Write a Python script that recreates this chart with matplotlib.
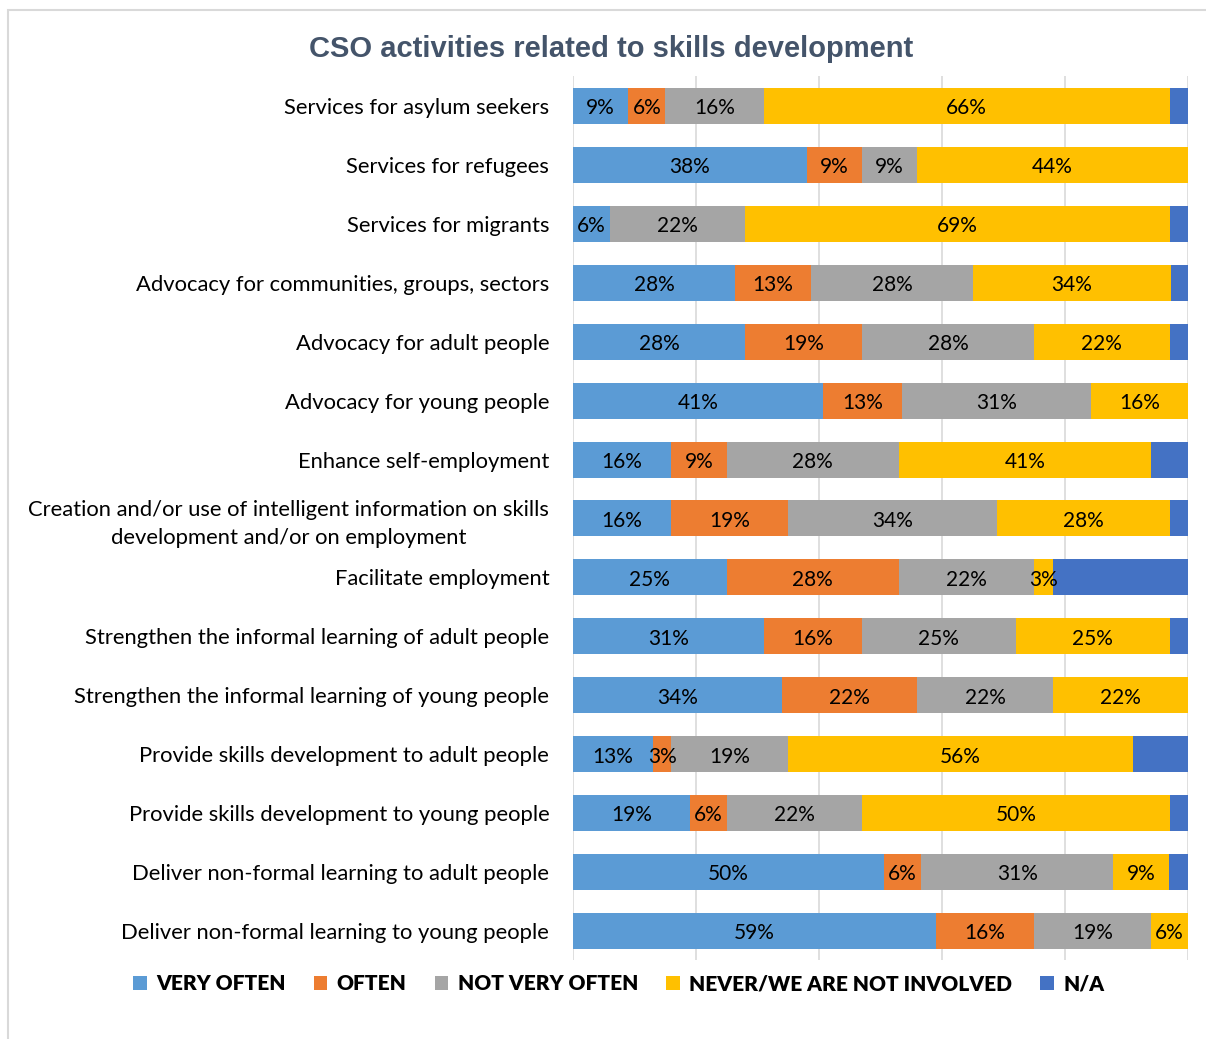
import numpy as np
import matplotlib
matplotlib.use("Agg")
import matplotlib.pyplot as plt
from matplotlib.patches import Rectangle

# Categories (top to bottom)
categories = [
    "Services for asylum seekers",
    "Services for refugees",
    "Services for migrants",
    "Advocacy for communities, groups, sectors",
    "Advocacy for adult people",
    "Advocacy for young people",
    "Enhance self-employment",
    "Creation and/or use of intelligent information on skills\ndevelopment and/or on employment",
    "Facilitate employment",
    "Strengthen the informal learning of adult people",
    "Strengthen the informal learning of young people",
    "Provide skills development to adult people",
    "Provide skills development to young people",
    "Deliver non-formal learning to adult people",
    "Deliver non-formal learning to young people",
]

# Percent of respondents per answer
very_often = [9, 38, 6, 28, 28, 41, 16, 16, 25, 31, 34, 13, 19, 50, 59]
often = [6, 9, 0, 13, 19, 13, 9, 19, 28, 16, 22, 3, 6, 6, 16]
not_very_often = [16, 9, 22, 28, 28, 31, 28, 34, 22, 25, 22, 19, 22, 31, 19]
never = [66, 44, 69, 34, 22, 16, 41, 28, 3, 25, 22, 56, 50, 9, 6]
na = [3, 0, 3, 3, 3, 0, 6, 3, 22, 3, 0, 9, 3, 3, 0]

series = ["VERY OFTEN", "OFTEN", "NOT VERY OFTEN", "NEVER/WE ARE NOT INVOLVED", "N/A"]
colors = ["#5B9BD5", "#ED7D31", "#A5A5A5", "#FFC000", "#4472C4"]
show_label = [True, True, True, True, False]

data = np.array([very_often, often, not_very_often, never, na], dtype=float)
# 100% stacked: each row scaled to its total
shares = data / data.sum(axis=0) * 100

fig = plt.figure(figsize=(12.06, 10.39), dpi=100)
ax = fig.add_axes([0.4751, 0.0756, 0.5100, 0.8508])

y = np.arange(len(categories))
left = np.zeros(len(categories))
for i, name in enumerate(series):
    bars = ax.barh(y, shares[i], left=left, height=0.61, color=colors[i],
                   label=name, zorder=2)
    if show_label[i]:
        for j, b in enumerate(bars):
            if data[i, j] > 0:
                ax.text(left[j] + shares[i, j] / 2, y[j] + 0.04, f"{data[i, j]:.0f}%",
                        ha="center", va="center", fontsize=15,
                        family="Lato", color="#000000", zorder=3)
    left += shares[i]

ax.set_xlim(0, 100)
ax.set_ylim(len(categories) - 0.5, -0.5)
ax.set_xticks(np.arange(0, 101, 20))
ax.set_xticklabels([])
ax.tick_params(axis="x", length=0)
ax.tick_params(axis="y", length=0, pad=17)
ax.set_yticks(y)
ax.set_yticklabels(categories, fontsize=15.8, family="Lato", ha="right")
for lbl in ax.get_yticklabels():
    lbl.set_multialignment("center")
    lbl.set_linespacing(1.45)
ax.grid(axis="x", color="#D9D9D9", linewidth=1.2, zorder=0)
for s in ax.spines.values():
    s.set_visible(False)

fig.text(0.507, 0.953, "CSO activities related to skills development",
         ha="center", va="center", fontsize=21, fontweight="bold",
         family="Liberation Sans", color="#44546A")

leg = fig.legend(loc="center", bbox_to_anchor=(0.513, 0.053), ncol=5,
                 frameon=False, handlelength=0.65, handleheight=0.65,
                 handletextpad=0.45, columnspacing=1.35,
                 prop={"family": "Lato", "weight": "heavy", "size": 15})

# chart border
fig.patches.append(Rectangle((8 / 1206, -0.01), 1.1, 1 - 10 / 1039 + 0.01,
                             transform=fig.transFigure, fill=False,
                             edgecolor="#D9D9D9", linewidth=1.5))

fig.savefig("out.png", dpi=100)
